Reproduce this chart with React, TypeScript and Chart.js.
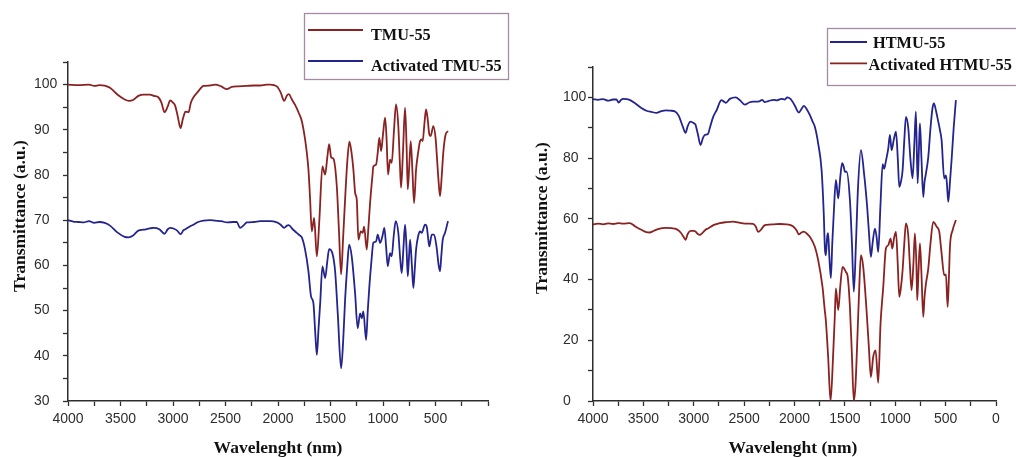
import React, { useEffect, useRef } from 'react';
import { Chart, registerables } from 'chart.js';

Chart.register(...registerables);

// ---------- Left chart data (TMU-55) ----------
const tmuWn = [4000, 3900, 3800, 3750, 3700, 3650, 3600, 3530, 3460, 3420, 3380, 3330, 3280, 3220, 3180, 3140, 3110, 3081, 3050, 3027, 3000, 2979, 2955, 2928, 2905, 2881, 2852, 2830, 2805, 2760, 2710, 2650, 2598, 2540, 2487, 2440, 2380, 2300, 2230, 2168, 2110, 2074, 2011, 1975, 1941, 1915, 1897, 1870, 1837, 1800, 1773, 1742, 1726, 1710, 1695, 1678, 1656, 1630, 1606, 1577, 1551, 1530, 1513, 1495, 1488, 1472, 1440, 1420, 1399, 1380, 1361, 1340, 1320, 1300, 1282, 1265, 1250, 1234, 1212, 1193, 1180, 1155, 1140, 1123, 1100, 1092, 1066, 1050, 1035, 1018, 1000, 980, 966, 952, 933, 917, 895, 876, 854, 840, 828, 810, 790, 775, 764, 750, 736, 720, 704, 685, 665, 647, 631, 622, 605, 590, 575, 559, 546, 521, 498, 489, 472, 457, 440, 426, 403, 381];
const tmuT = [100, 99.9, 100, 99.7, 99.9, 99.8, 99.3, 97.8, 96.7, 96.4, 96.6, 97.5, 97.8, 97.8, 97.5, 97.2, 96, 93.9, 95.2, 96.5, 96, 95.3, 93, 90.4, 92.5, 94, 93.9, 96, 97.2, 98.5, 99.7, 99.8, 100, 99.6, 99, 99.5, 99.6, 99.7, 99.8, 99.8, 100, 100, 99.6, 98.3, 96.4, 97.6, 97.9, 96.8, 95.5, 93.6, 91.9, 87.9, 85, 81.2, 75, 67.5, 70.5, 62, 70.1, 81.9, 80.1, 84, 86.8, 84, 83.8, 83.6, 77.5, 68, 58, 66, 74.6, 83, 87.4, 85, 81.2, 76, 74.6, 65.7, 67.5, 67.2, 68.6, 63.5, 68, 73.8, 80, 81.9, 82.3, 85, 88.2, 85.3, 89, 92.7, 88, 80.1, 83.4, 82.7, 90, 95.6, 90.8, 83, 77.2, 85, 94.9, 86, 76.8, 82, 87.5, 81, 73.8, 81.2, 85, 87.5, 87.9, 87.5, 91.5, 94.5, 92.5, 89, 88.6, 90.8, 87.9, 84.9, 79, 75.3, 80, 84.9, 89, 89.7];

const actTmuWn = [4000, 3950, 3900, 3850, 3800, 3750, 3700, 3650, 3600, 3530, 3460, 3423, 3380, 3330, 3280, 3220, 3185, 3130, 3081, 3050, 3027, 2990, 2960, 2928, 2900, 2881, 2840, 2805, 2760, 2710, 2650, 2600, 2540, 2487, 2430, 2393, 2361, 2330, 2297, 2230, 2170, 2074, 2011, 1975, 1941, 1915, 1897, 1860, 1821, 1790, 1773, 1742, 1710, 1685, 1663, 1645, 1630, 1614, 1598, 1577, 1551, 1530, 1513, 1482, 1456, 1430, 1399, 1380, 1361, 1340, 1323, 1298, 1266, 1241, 1218, 1202, 1187, 1161, 1145, 1130, 1110, 1092, 1066, 1050, 1028, 1005, 987, 970, 955, 933, 917, 898, 879, 854, 838, 822, 805, 790, 776, 764, 752, 742, 725, 711, 698, 685, 665, 647, 631, 600, 584, 570, 559, 536, 514, 489, 470, 457, 445, 431, 409, 381];
const actTmuT = [70, 69.7, 69.6, 69.5, 69.8, 69.4, 69.6, 69.4, 68.8, 67.3, 66.3, 66.2, 66.6, 67.7, 67.9, 68.2, 68.3, 68, 67, 68, 68.3, 68.1, 67.7, 66.9, 67.8, 68, 68.6, 69, 69.6, 69.9, 70, 69.9, 69.8, 69.5, 69.6, 69.6, 68.3, 68.8, 69.5, 69.6, 69.8, 69.8, 69.5, 69, 68.3, 68.8, 68.9, 68, 67.2, 66.6, 66.2, 63.5, 58.7, 53.1, 51.7, 45, 40.2, 46, 51.7, 59.8, 57.2, 61, 63.6, 62.7, 58.7, 49, 37.2, 43, 52.4, 60, 64.6, 62, 53.9, 46.1, 49.4, 48.3, 49.8, 43.5, 50, 55.3, 61, 65, 65.3, 66.8, 65, 66.5, 68.3, 64, 59.8, 62.7, 62, 66.5, 69.8, 67.2, 62, 58.3, 64, 69, 64, 57.6, 62, 65.7, 60, 55, 59, 63.5, 66.5, 67.5, 67.2, 69, 68.6, 66, 64.2, 66.8, 66.8, 63.9, 60, 58.7, 62, 65.7, 67.2, 69.8];

// ---------- Right chart data (HTMU-55) ----------
const htmuWn = [4000, 3950, 3900, 3850, 3800, 3768, 3745, 3720, 3702, 3636, 3580, 3520, 3470, 3420, 3370, 3320, 3271, 3230, 3188, 3150, 3110, 3082, 3060, 3033, 3000, 2983, 2960, 2933, 2910, 2891, 2858, 2840, 2808, 2770, 2740, 2725, 2700, 2681, 2642, 2583, 2540, 2493, 2450, 2411, 2350, 2320, 2295, 2260, 2200, 2178, 2130, 2096, 2073, 2040, 2000, 1957, 1930, 1907, 1880, 1848, 1820, 1798, 1765, 1731, 1710, 1698, 1689, 1676, 1666, 1655, 1639, 1625, 1610, 1589, 1566, 1545, 1527, 1510, 1500, 1483, 1450, 1430, 1411, 1390, 1370, 1341, 1308, 1279, 1260, 1242, 1225, 1202, 1185, 1169, 1146, 1125, 1110, 1093, 1070, 1053, 1036, 1015, 993, 975, 960, 945, 927, 910, 894, 871, 850, 828, 810, 795, 778, 765, 755, 740, 722, 710, 695, 672, 650, 630, 616, 595, 573, 555, 540, 514, 497, 488, 474, 455, 441, 420, 398];
const htmuT = [99.4, 99.2, 99.4, 98.9, 99.3, 99.3, 98.3, 99.2, 99.5, 99.2, 98, 96.5, 95.6, 95.2, 94.9, 95.5, 95.7, 95.6, 95.4, 94, 90.5, 88.3, 90.5, 92, 91.5, 91, 88, 84.3, 86.5, 87.6, 88, 90, 93.5, 96, 98.5, 99.1, 98.6, 98.2, 99.5, 100, 99, 97.6, 98.3, 98.6, 98.7, 99.2, 98.4, 98.8, 99.2, 99, 99.5, 99.3, 100, 99.5, 97.5, 95, 96.2, 97.2, 96.2, 94.2, 92, 90.3, 84.8, 76, 62, 50, 48, 54, 55.3, 48, 40.5, 52, 62, 72.8, 66.7, 74, 78.3, 77, 75.5, 75.5, 66.2, 52, 36, 52, 70, 82.6, 74.4, 64, 55, 47.5, 52, 56.8, 54, 49.1, 65.1, 78, 76.5, 79, 83, 87.6, 82.6, 86, 88.7, 80, 70.5, 72, 76, 86, 93.6, 90, 80, 73.3, 85, 95.3, 71.7, 83, 91.4, 80, 67.2, 72, 75, 80.4, 90, 96.5, 98, 95.5, 92, 89, 85.9, 73.3, 74.3, 72, 65.6, 73, 79.3, 90, 99.1];

const actHtmuWn = [4000, 3950, 3900, 3850, 3800, 3750, 3700, 3636, 3580, 3520, 3470, 3437, 3400, 3337, 3280, 3220, 3172, 3130, 3100, 3082, 3060, 3033, 3000, 2983, 2960, 2940, 2915, 2880, 2858, 2800, 2741, 2680, 2609, 2560, 2493, 2450, 2411, 2385, 2361, 2330, 2300, 2278, 2200, 2140, 2079, 2013, 1980, 1957, 1930, 1907, 1880, 1848, 1798, 1765, 1722, 1700, 1689, 1666, 1642, 1616, 1600, 1589, 1566, 1545, 1523, 1505, 1490, 1473, 1450, 1430, 1411, 1395, 1384, 1360, 1341, 1318, 1285, 1262, 1242, 1219, 1195, 1169, 1146, 1119, 1093, 1070, 1046, 1030, 1010, 993, 975, 960, 945, 927, 910, 894, 871, 855, 838, 820, 805, 790, 782, 770, 755, 740, 722, 710, 695, 672, 650, 623, 589, 563, 540, 514, 497, 480, 468, 457, 430, 398];
const actHtmuT = [58.2, 58.4, 58.2, 58.5, 58.3, 58.6, 58.4, 58.6, 57.5, 56.4, 55.6, 55.5, 56, 56.8, 57, 56.9, 56.6, 55.5, 54, 53.1, 55, 56, 56, 55.8, 55, 54.7, 55.3, 56.5, 56.8, 58, 58.6, 58.9, 59.1, 58.8, 58.4, 58.4, 58.3, 57.5, 55.7, 56.5, 57.8, 58, 58.2, 58.3, 58.2, 57.5, 56.2, 54.9, 55.5, 55.8, 55.2, 54.1, 50.8, 46.4, 37.6, 30, 26.6, 14.5, 0, 15.6, 28, 37.1, 29.9, 38, 44.2, 43.5, 42.5, 41.2, 31, 15, 0, 5, 13.4, 35, 48, 44.2, 29.9, 17.8, 7.9, 14.5, 16.7, 6, 25.5, 37.6, 50.2, 51.3, 53.5, 50.2, 54, 55.7, 45, 34.3, 37, 43.1, 52, 58.5, 54.6, 45, 36.5, 45, 55.2, 45, 33.2, 42, 51.9, 42, 27.7, 34, 38.7, 43.7, 52, 59, 57.4, 55.7, 48.6, 41.4, 41.7, 31, 40, 50.8, 56.3, 59.6];

// ---------- Tick labels ----------
const leftXLabels = [4000, 3500, 3000, 2500, 2000, 1500, 1000, 500];
const rightXLabels = [4000, 3500, 3000, 2500, 2000, 1500, 1000, 500, 0];
const leftYLabels = [30, 40, 50, 60, 70, 80, 90, 100];
const rightYLabels = [0, 20, 40, 60, 80, 100];

const RED = '#8a2222';
const BLUE = '#24248e';
const AXIS = '#2e2e2e';
const TICK_FONT = '"Liberation Sans", Arial, sans-serif';
const SERIF = '"Liberation Serif", "Times New Roman", serif';

const toPts = (xs: number[], ys: number[]) => xs.map((x, i) => ({ x, y: ys[i] }));

type Decor = {
  yTitle: { x: number; y: number };
  xTitle: { x: number; y: number };
  legend: {
    box: [number, number, number, number];
    items: { x1: number; x2: number; y: number; tx: number; ty: number }[];
  };
};

const decorPlugin = {
  id: 'decor',
  afterDraw(chart: any, _args: any, opts: Decor) {
    const ctx = chart.ctx;
    ctx.save();
    ctx.fillStyle = '#111';
    ctx.font = `bold 17.5px ${SERIF}`;
    // y title
    ctx.save();
    ctx.translate(opts.yTitle.x, opts.yTitle.y);
    ctx.rotate(-Math.PI / 2);
    ctx.textAlign = 'center';
    ctx.textBaseline = 'alphabetic';
    ctx.fillText('Transmittance (a.u.)', 0, 0);
    ctx.restore();
    // x title
    ctx.textAlign = 'center';
    ctx.textBaseline = 'alphabetic';
    ctx.fillText('Wavelenght (nm)', opts.xTitle.x, opts.xTitle.y);
    // legend box
    const [bx, by, bw, bh] = opts.legend.box;
    ctx.strokeStyle = '#a58aa5';
    ctx.lineWidth = 1.3;
    ctx.strokeRect(bx, by, bw, bh);
    ctx.font = `bold 16.3px ${SERIF}`;
    ctx.textAlign = 'left';
    opts.legend.items.forEach((it, i) => {
      const ds = chart.data.datasets[i];
      ctx.strokeStyle = ds.borderColor;
      ctx.lineWidth = 1.8;
      ctx.beginPath();
      ctx.moveTo(it.x1, it.y);
      ctx.lineTo(it.x2, it.y);
      ctx.stroke();
      ctx.fillStyle = '#111';
      ctx.fillText(ds.label, it.tx, it.ty);
    });
    ctx.restore();
  },
};

function xScale(labels: number[], height: number) {
  return {
    type: 'linear',
    min: 0,
    max: 4000,
    reverse: true,
    ticks: {
      stepSize: 250,
      autoSkip: false,
      maxRotation: 0,
      minRotation: 0,
      padding: 5,
      color: AXIS,
      font: { family: TICK_FONT, size: 14 },
      callback: (v: number) => (labels.includes(v) ? String(v) : ''),
    },
    grid: { drawOnChartArea: false, drawTicks: true, tickLength: 5, tickColor: AXIS, tickWidth: 1.3 },
    border: { display: true, color: AXIS, width: 1.5 },
    afterFit: (s: any) => {
      s.height = height;
      s.paddingLeft = 0;
      s.paddingRight = 0;
    },
  };
}

function yScale(min: number, max: number, step: number, labels: number[], width: number) {
  return {
    type: 'linear',
    min,
    max,
    ticks: {
      stepSize: step,
      autoSkip: false,
      crossAlign: 'far',
      padding: 4,
      color: AXIS,
      font: { family: TICK_FONT, size: 14 },
      callback: (v: number) => (labels.includes(v) ? String(v) : ''),
    },
    grid: { drawOnChartArea: false, drawTicks: true, tickLength: 5, tickColor: AXIS, tickWidth: 1.3 },
    border: { display: true, color: AXIS, width: 1.5 },
    afterFit: (s: any) => {
      s.width = width;
      s.paddingTop = 0;
      s.paddingBottom = 0;
    },
  };
}

function lineDs(label: string, xs: number[], ys: number[], color: string) {
  return {
    label,
    data: toPts(xs, ys),
    borderColor: color,
    backgroundColor: color,
    borderWidth: 1.8,
    pointRadius: 0,
    cubicInterpolationMode: 'monotone',
    fill: false,
  };
}

function SpectrumChart(props: {
  left: number;
  width: number;
  datasets: any[];
  padding: { left: number; top: number; right: number; bottom: number };
  x: any;
  y: any;
  decor: Decor;
}) {
  const ref = useRef<HTMLCanvasElement | null>(null);
  useEffect(() => {
    if (!ref.current) return;
    const chart = new Chart(ref.current, {
      type: 'line',
      data: { datasets: props.datasets },
      options: {
        responsive: false,
        animation: false,
        devicePixelRatio: 1,
        layout: { padding: props.padding },
        scales: { x: props.x, y: props.y },
        plugins: {
          legend: { display: false },
          tooltip: { enabled: false },
          decor: props.decor,
        } as any,
      } as any,
      plugins: [decorPlugin as any],
    });
    return () => chart.destroy();
  }, []);
  return (
    <canvas
      ref={ref}
      width={props.width}
      height={457}
      style={{ position: 'absolute', left: props.left, top: 0, width: props.width, height: 457 }}
    />
  );
}

export default function App() {
  return (
    <div style={{ position: 'absolute', left: 0, top: 0, width: 1016, height: 457, background: '#fff', overflow: 'hidden' }}>
      <SpectrumChart
        left={0}
        width={510}
        datasets={[
          lineDs('TMU-55', tmuWn, tmuT, RED),
          lineDs('Activated TMU-55', actTmuWn, actTmuT, BLUE),
        ]}
        padding={{ left: 34, top: 62, right: 22, bottom: 0 }}
        x={xScale(leftXLabels, 56)}
        y={yScale(30, 105, 5, leftYLabels, 34)}
        decor={{
          yTitle: { x: 24.5, y: 216 },
          xTitle: { x: 278, y: 453 },
          legend: {
            box: [304.5, 13.5, 204, 66],
            items: [
              { x1: 308, x2: 363, y: 30, tx: 371, ty: 39.5 },
              { x1: 308, x2: 363, y: 61, tx: 371, ty: 70.7 },
            ],
          },
        }}
      />
      <SpectrumChart
        left={510}
        width={506}
        datasets={[
          lineDs('HTMU-55', htmuWn, htmuT, BLUE),
          lineDs('Activated HTMU-55', actHtmuWn, actHtmuT, RED),
        ]}
        padding={{ left: 53, top: 67, right: 20, bottom: 0 }}
        x={xScale(rightXLabels, 56)}
        y={yScale(0, 110, 10, rightYLabels, 30)}
        decor={{
          yTitle: { x: 36.5, y: 218 },
          xTitle: { x: 283, y: 453 },
          legend: {
            box: [317.5, 28.5, 220, 57],
            items: [
              { x1: 320, x2: 357, y: 42, tx: 363, ty: 47.5 },
              { x1: 320, x2: 357, y: 63.3, tx: 358.5, ty: 69.5 },
            ],
          },
        }}
      />
    </div>
  );
}
